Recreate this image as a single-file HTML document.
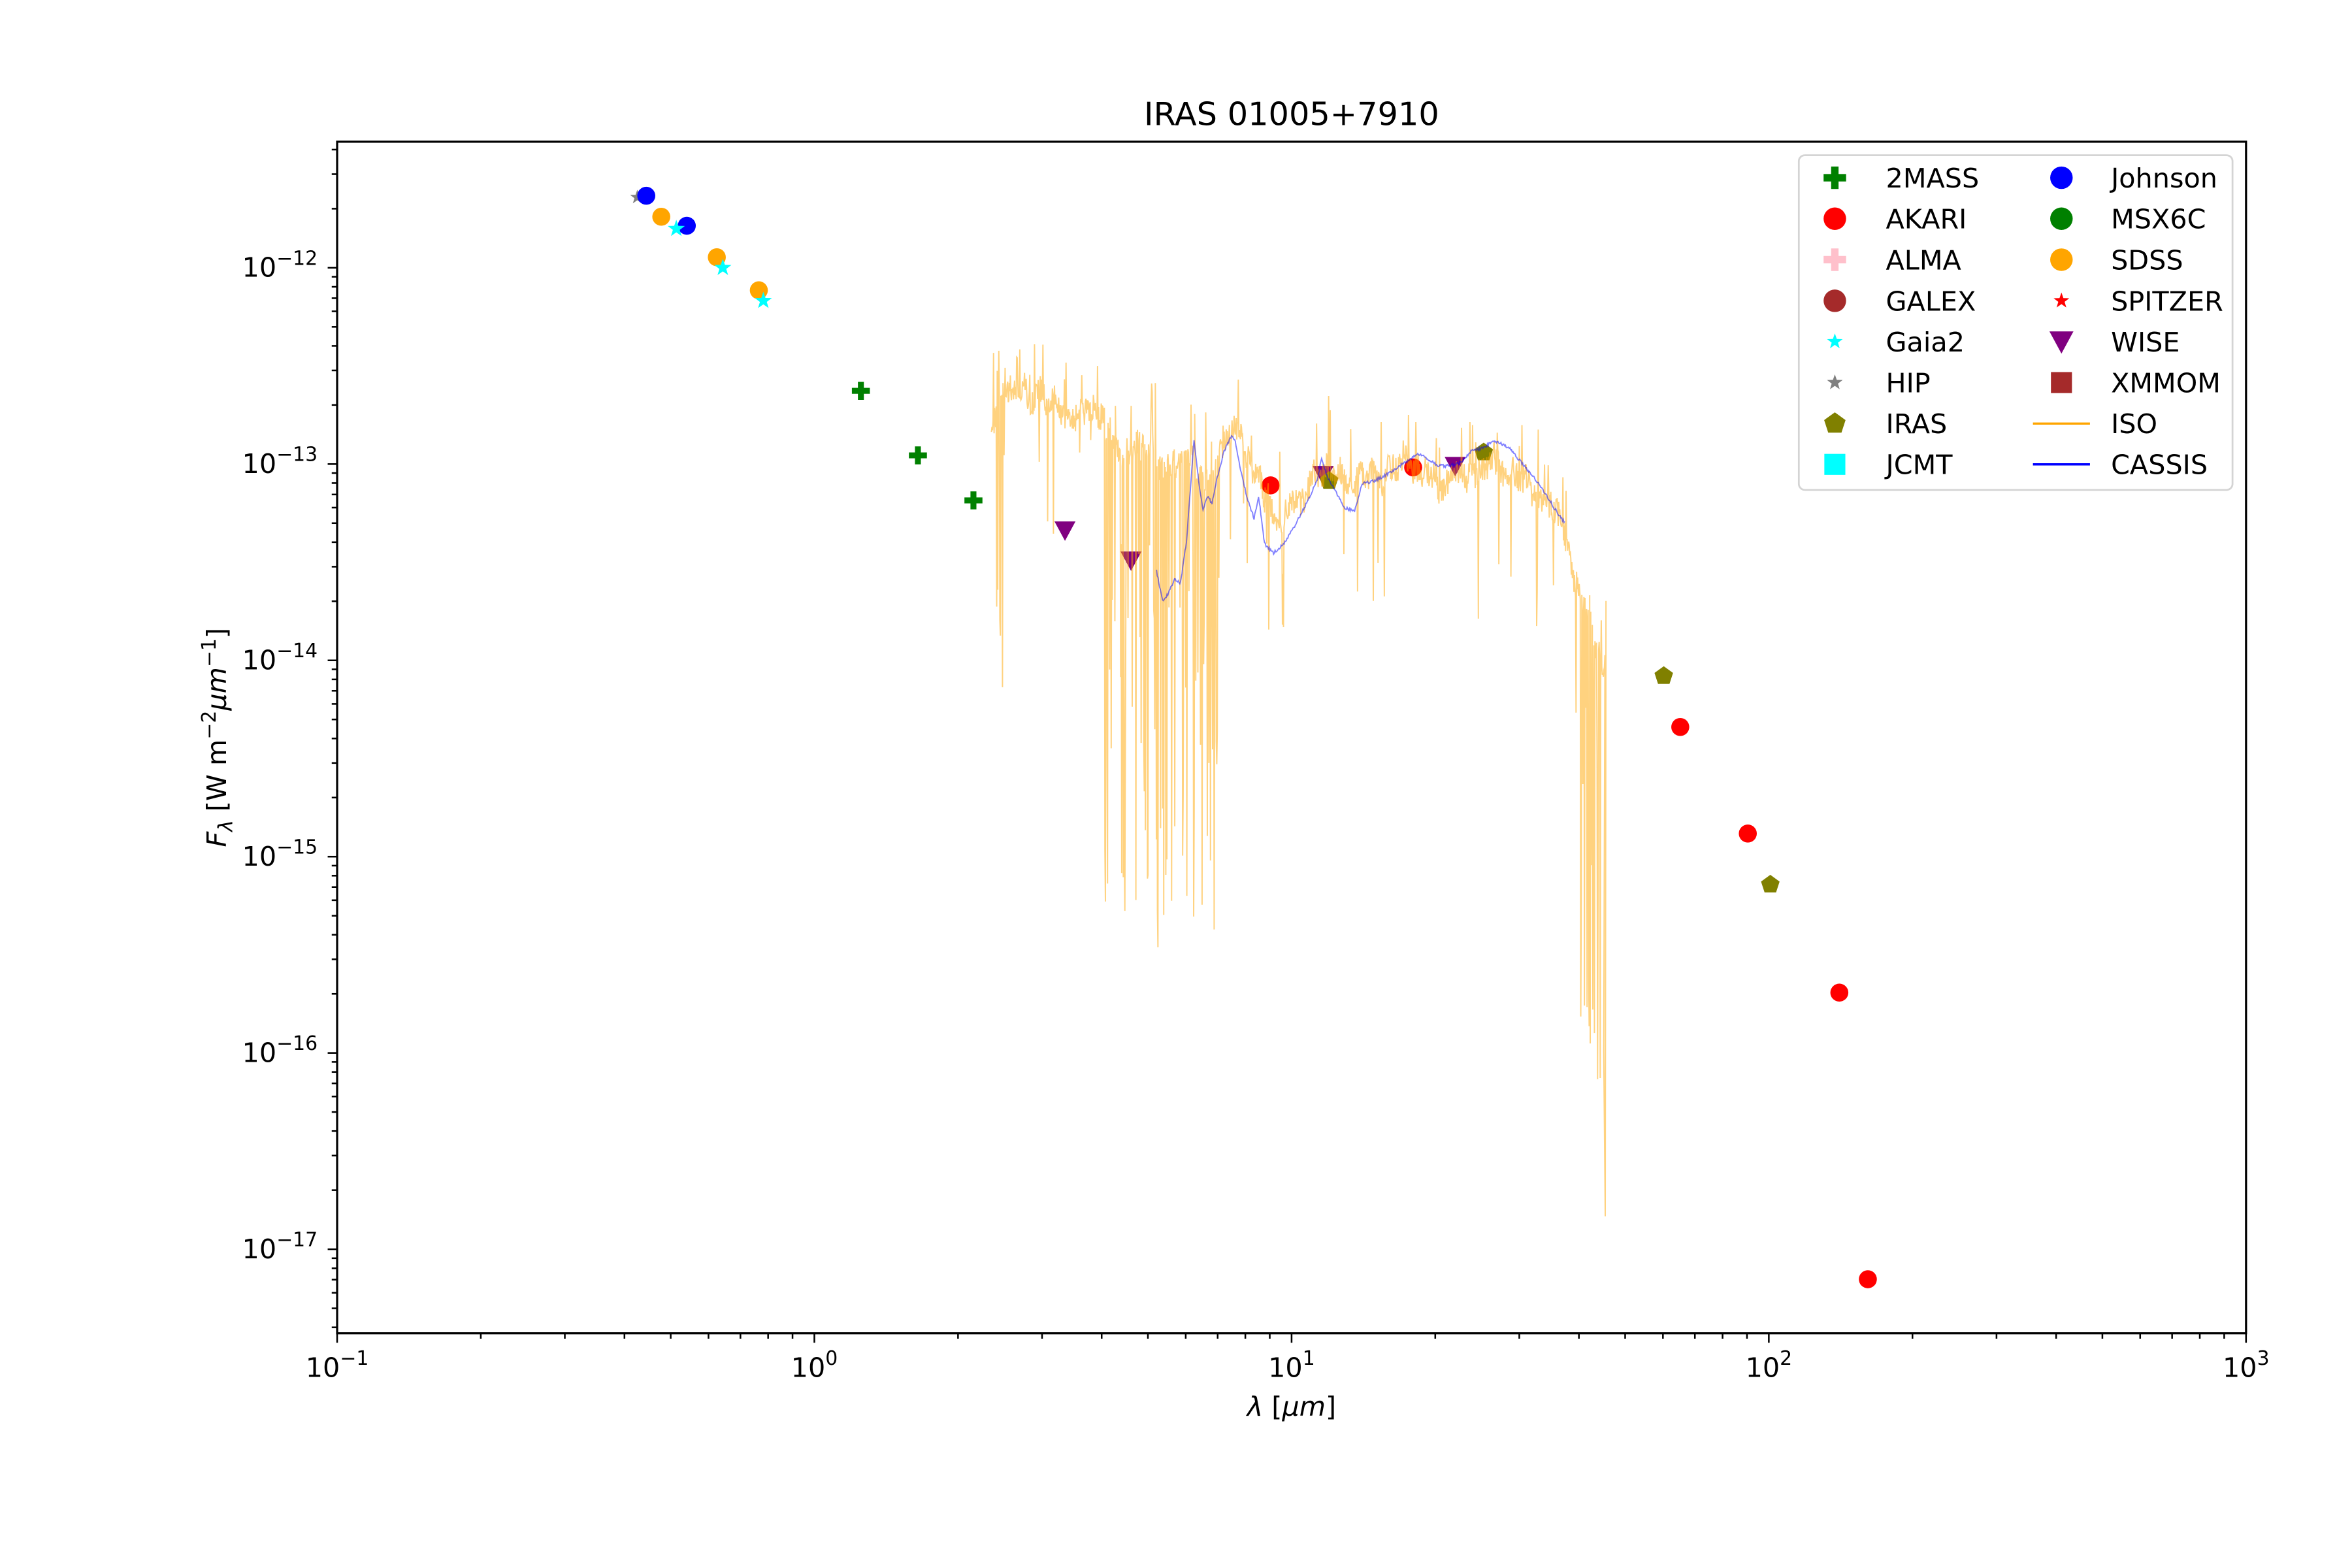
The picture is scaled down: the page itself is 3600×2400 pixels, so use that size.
<!DOCTYPE html>
<html><head><meta charset="utf-8">
<style>
html,body{margin:0;padding:0;background:#fff;}
svg{display:block;}
text{font-family:"DejaVu Sans","Liberation Sans",sans-serif;fill:#000;}
</style></head>
<body>
<svg id="s" width="3600" height="2400" viewBox="0 0 3600 2400" xmlns="http://www.w3.org/2000/svg">
<rect width="3600" height="2400" fill="#fff"/>
<g id="g" transform="translate(1.5,1) scale(2.297)">
<g id="markers"></g>
<g id="spec"></g>
<rect x="224" y="94" width="1272" height="794" fill="none" stroke="#000" stroke-width="1.4"/>
<g id="ticks" stroke="#000" stroke-width="1.1"></g>
<g id="labels" font-size="18"></g>
<text x="860" y="83" font-size="21.5" text-anchor="middle">IRAS 01005+7910</text>
<text x="860" y="943" font-size="18" text-anchor="middle"><tspan font-style="italic">λ</tspan> [<tspan font-style="italic">μm</tspan>]</text>
<text transform="translate(150,491) rotate(-90)" font-size="18" text-anchor="middle"><tspan font-style="italic">F</tspan><tspan font-style="italic" font-size="13" dy="4">λ</tspan><tspan dy="-4"> [W m</tspan><tspan font-size="13" dy="-7">−2</tspan><tspan font-style="italic" dy="7">μm</tspan><tspan font-size="13" dy="-7">−1</tspan><tspan dy="7">]</tspan></text>
<g id="legend">
<rect x="1198" y="103" width="289" height="223" rx="4" fill="#fff" fill-opacity="0.8" stroke="#d4d4d4" stroke-width="1.2"/>
</g>
</g>
</svg>
<script>
var NS="http://www.w3.org/2000/svg";
function el(p,n,a){var e=document.createElementNS(NS,n);for(var k in a)e.setAttribute(k,a[k]);p.appendChild(e);return e;}
var M=document.getElementById('markers'),T=document.getElementById('ticks'),L=document.getElementById('labels'),G=document.getElementById('legend'),S=document.getElementById('spec');
var X0=224,DX=318,Y12=178,DY=130.8;
for(var d=-1;d<=3;d++){var x=X0+(d+1)*DX;el(T,'line',{x1:x,y1:888,x2:x,y2:894.3});
 var t=el(L,'text',{x:x,y:917,'text-anchor':'middle'});t.innerHTML='10<tspan font-size="13" dy="-8">'+(d<0?'−1':d)+'</tspan>';
 if(d<3)for(var m=2;m<=9;m++){var xm=x+Math.log10(m)*DX;el(T,'line',{x1:xm,y1:888,x2:xm,y2:891.6});}}
for(var e=-11;e>=-18;e--){
 for(var m=1;m<=9;m++){var y=Y12+(-12-e-Math.log10(m))*DY; if(y<94||y>888)continue;
  if(m==1){el(T,'line',{x1:224,y1:y,x2:217.7,y2:y});var t=el(L,'text',{x:211,y:y+6,'text-anchor':'end'});t.innerHTML='10<tspan font-size="13" dy="-8">−'+(-e)+'</tspan>';}
  else el(T,'line',{x1:224,y1:y,x2:220.4,y2:y});}}
function star(p,cx,cy,r,c){var s='';for(var i=0;i<10;i++){var a=-Math.PI/2+i*Math.PI/5,rr=i%2?r*0.4:r;s+=(cx+rr*Math.cos(a))+','+(cy+rr*Math.sin(a))+' ';}el(p,'polygon',{points:s,fill:c});}
function circ(p,cx,cy,c,r){el(p,'circle',{cx:cx,cy:cy,r:r||6,fill:c});}
function plus(p,cx,cy,c,s){s=s||6;el(p,'path',{d:'M'+(cx-s)+' '+cy+'h'+(2*s)+'M'+cx+' '+(cy-s)+'v'+(2*s),stroke:c,'stroke-width':s*0.66});}
function tri(p,cx,cy,c,s){s=s||7;el(p,'polygon',{points:(cx-s)+','+(cy-s*0.85)+' '+(cx+s)+','+(cy-s*0.85)+' '+cx+','+(cy+s),fill:c});}
function pent(p,cx,cy,c,r){r=r||6.5;var s='';for(var i=0;i<5;i++){var a=-Math.PI/2+i*2*Math.PI/5;s+=(cx+r*Math.cos(a))+','+(cy+r*Math.sin(a))+' ';}el(p,'polygon',{points:s,fill:c});}
function sq(p,cx,cy,c,s){s=s||6;el(p,'rect',{x:cx-s,y:cy-s,width:2*s,height:2*s,fill:c});}
star(M,424,131,5,'#808080');
circ(M,430,130,'#0000ff');circ(M,457,150,'#0000ff');
circ(M,440,144,'#ffa500');circ(M,477,171,'#ffa500');circ(M,505,193,'#ffa500');
star(M,450,152,6,'#00ffff');star(M,481,178,6,'#00ffff');star(M,508,200,6,'#00ffff');
plus(M,573,260,'#008000');plus(M,611,303,'#008000');plus(M,648,333,'#008000');
tri(M,709,353,'#800080');tri(M,753,373,'#800080');tri(M,881,316,'#800080');tri(M,969,310,'#800080');
circ(M,846,323,'#ff0000');circ(M,941,311,'#ff0000');circ(M,1119,484,'#ff0000');circ(M,1164,555,'#ff0000');circ(M,1225,661,'#ff0000');circ(M,1244,852,'#ff0000');
pent(M,885,320,'#808000');pent(M,988,301,'#808000');pent(M,1108,450,'#808000');pent(M,1179,589,'#808000');
var seed=12345;function rnd(){seed=(seed*1103515245+12345)%2147483648;return seed/2147483648;}
function interp(pts,x){for(var i=0;i<pts.length-1;i++){if(x>=pts[i][0]&&x<=pts[i+1][0]){var f=(x-pts[i][0])/(pts[i+1][0]-pts[i][0]);return pts[i][1]+f*(pts[i+1][1]-pts[i][1]);}}return pts[pts.length-1][1];}
var iso=[[660,290],[665,262],[680,262],[700,268],[720,275],[740,285],[745,300],[760,302],[780,310],[795,305],[805,325],[815,290],[822,282],[830,300],[840,320],[848,338],[852,355],[858,340],[870,325],[885,312],[900,318],[920,318],[940,310],[960,318],[975,320],[990,312],[1000,310],[1010,318],[1025,328],[1040,348],[1048,380],[1055,400],[1062,420],[1068,450]];
var d='',wob=0;
for(var x=660;x<=1069;x+=0.35){wob=wob*0.9+(rnd()-0.5)*6;var y=interp(iso,x)+wob+(rnd()-0.5)*18;
 var pr=0.02;
 if(x<668)pr=0.3; else if(x>735&&x<812)pr=0.28; else if(x>838&&x<856)pr=0.1; else if(x>1048)pr=0.35;
 if(rnd()<pr){ if(x<668)y+=80+rnd()*120; else if(x>735&&x<812)y+=60+rnd()*260; else if(x>1048)y+=60+rnd()*260; else y+=20+rnd()*80;}
 else if(rnd()<0.05){y-=15+rnd()*30;}
 if(x<664&&rnd()<0.3)y=220+rnd()*40;
 d+=(d?'L':'M')+x.toFixed(2)+' '+y.toFixed(1);}
d+='L1068 700L1069 810L1069.5 400';
el(S,'path',{d:d,fill:'none',stroke:'#ffa500','stroke-opacity':0.5,'stroke-width':0.85});
var cas=[[770,380],[774,400],[778,395],[782,385],[786,388],[790,360],[793,320],[795,292],[798,320],[801,340],[804,330],[807,335],[810,320],[815,300],[820,290],[822,292],[826,312],[830,330],[835,345],[838,330],[842,362],[848,368],[855,362],[862,350],[870,335],[877,320],[880,305],[884,318],[890,328],[895,338],[902,340],[907,322],[915,320],[925,315],[935,308],[945,302],[950,305],[958,310],[965,310],[972,308],[980,300],[988,298],[995,293],[1005,298],[1015,310],[1025,322],[1035,338],[1042,348]];
var dc='';for(var x=770;x<=1042;x+=0.5){var y=interp(cas,x)+(rnd()-0.5)*2;dc+=(dc?'L':'M')+x.toFixed(1)+' '+y.toFixed(1);}
el(S,'path',{d:dc,fill:'none',stroke:'#0000ff','stroke-opacity':0.5,'stroke-width':0.8});
var rows=[118,145.3,172.6,200,227.2,254.5,281.8,309];
var c1=[['2MASS',function(y){plus(G,1222,y,'#008000',7.5);}],['AKARI',function(y){circ(G,1222,y,'#ff0000',7.5);}],['ALMA',function(y){plus(G,1222,y,'#ffc0cb',7.5);}],['GALEX',function(y){circ(G,1222,y,'#a52a2a',7.5);}],['Gaia2',function(y){star(G,1222,y,5.5,'#00ffff');}],['HIP',function(y){star(G,1222,y,5.5,'#808080');}],['IRAS',function(y){pent(G,1222,y,'#808000',7.5);}],['JCMT',function(y){sq(G,1222,y,'#00ffff',7);}]];
var c2=[['Johnson',function(y){circ(G,1373,y,'#0000ff',7.5);}],['MSX6C',function(y){circ(G,1373,y,'#008000',7.5);}],['SDSS',function(y){circ(G,1373,y,'#ffa500',7.5);}],['SPITZER',function(y){star(G,1373,y,5.5,'#ff0000');}],['WISE',function(y){tri(G,1373,y,'#800080',8);}],['XMMOM',function(y){sq(G,1373,y,'#a52a2a',7);}],['ISO',function(y){el(G,'line',{x1:1354,y1:y,x2:1392,y2:y,stroke:'#ffa500','stroke-width':1.5});}],['CASSIS',function(y){el(G,'line',{x1:1354,y1:y,x2:1392,y2:y,stroke:'#0000ff','stroke-width':1.5});}]];
for(var i=0;i<8;i++){c1[i][1](rows[i]);var t=el(G,'text',{x:1256,y:rows[i]+6.5,'font-size':18});t.textContent=c1[i][0];
 c2[i][1](rows[i]);t=el(G,'text',{x:1406,y:rows[i]+6.5,'font-size':18});t.textContent=c2[i][0];}
</script>
</body></html>
